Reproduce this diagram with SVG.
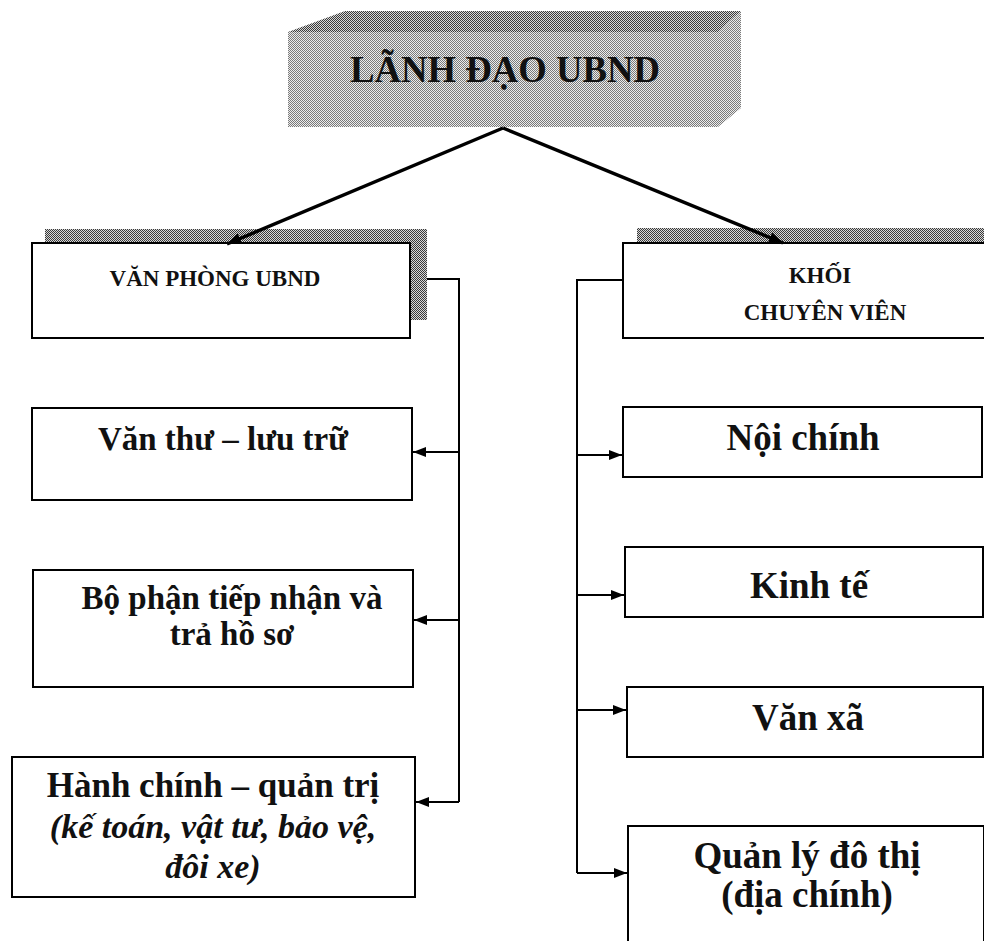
<svg xmlns="http://www.w3.org/2000/svg" width="984" height="941" viewBox="0 0 984 941">
  <defs>
    <!-- halftone-like fills -->
    <pattern id="dots" patternUnits="userSpaceOnUse" width="2" height="2">
      <rect width="2" height="2" fill="#ececec"/>
      <rect x="0" y="0" width="1" height="1" fill="#7a7a7a"/>
      <rect x="1" y="1" width="1" height="1" fill="#7a7a7a"/>
    </pattern>
    <pattern id="dotsDark" patternUnits="userSpaceOnUse" width="2" height="2">
      <rect width="2" height="2" fill="#d8d8d8"/>
      <rect x="0" y="0" width="1" height="1" fill="#3a3a3a"/>
      <rect x="1" y="1" width="1" height="1" fill="#3a3a3a"/>
    </pattern>
    <marker id="arrow" viewBox="0 0 13 10" refX="13" refY="5" markerWidth="13" markerHeight="10" markerUnits="userSpaceOnUse" orient="auto">
      <path d="M0,0 L13,5 L0,10 Z" fill="#000"/>
    </marker>
    <marker id="arrowBig" viewBox="0 0 14 11" refX="14" refY="5.5" markerWidth="14" markerHeight="11" markerUnits="userSpaceOnUse" orient="auto">
      <path d="M0,0 L14,5.5 L0,11 Z" fill="#000"/>
    </marker>
    <style>
      .box { fill: #fff; stroke: #000; stroke-width: 2; }
      .t { font-family: "Liberation Serif", "Times New Roman", serif; font-weight: bold; fill: #111; text-anchor: middle; }
      .ti { font-style: italic; }
      .link { fill: none; stroke: #000; stroke-width: 2; }
      .main { fill: none; stroke: #000; stroke-width: 3.5; }
    </style>
  </defs>

  <!-- top block drawn as a 3D slab -->
  <g id="lanh-dao">
    <polygon points="288,32 345,11 741,11 718,32" fill="url(#dotsDark)"/>
    <polygon points="718,32 741,11 741,108 718,127" fill="url(#dots)"/>
    <rect x="288" y="32" width="430" height="95" fill="url(#dots)"/>
    <text class="t" x="505" y="82" font-size="37" textLength="310" lengthAdjust="spacingAndGlyphs">LÃNH ĐẠO UBND</text>
  </g>

  <!-- left column header -->
  <g id="van-phong">
    <rect x="45" y="229" width="382" height="91" fill="url(#dotsDark)"/>
    <rect class="box" x="32" y="243" width="378" height="95"/>
    <text class="t" x="215" y="286" font-size="23">VĂN PHÒNG UBND</text>
  </g>

  <!-- right column header -->
  <g id="khoi-chuyen-vien">
    <rect x="637" y="228" width="360" height="91" fill="url(#dotsDark)"/>
    <rect class="box" x="623" y="243" width="380" height="95"/>
    <text class="t" x="820" y="283" font-size="23">KHỐI</text>
    <text class="t" x="825" y="320" font-size="23">CHUYÊN VIÊN</text>
  </g>

  <g id="van-thu">
    <rect class="box" x="32" y="408" width="380" height="92"/>
    <text class="t" x="223" y="450" font-size="33">Văn thư – lưu trữ</text>
  </g>

  <g id="bo-phan">
    <rect class="box" x="33" y="570" width="380" height="117"/>
    <text class="t" x="232" y="609" font-size="33">Bộ phận tiếp nhận và</text>
    <text class="t" x="232" y="645" font-size="33">trả hồ sơ</text>
  </g>

  <g id="hanh-chinh">
    <rect class="box" x="12" y="757" width="403" height="140"/>
    <text class="t" x="213" y="797" font-size="35">Hành chính – quản trị</text>
    <text class="t ti" x="213" y="838" font-size="34">(kế toán, vật tư, bảo vệ,</text>
    <text class="t ti" x="213" y="878" font-size="34">đôi xe)</text>
  </g>

  <g id="noi-chinh">
    <rect class="box" x="623" y="407" width="359" height="70"/>
    <text class="t" x="803" y="450" font-size="37">Nội chính</text>
  </g>

  <g id="kinh-te">
    <rect class="box" x="625" y="547" width="358" height="70"/>
    <text class="t" x="809" y="598" font-size="37">Kinh tế</text>
  </g>

  <g id="van-xa">
    <rect class="box" x="627" y="687" width="356" height="70"/>
    <text class="t" x="808" y="730" font-size="37">Văn xã</text>
  </g>

  <g id="quan-ly-do-thi">
    <rect class="box" x="628" y="826" width="356" height="130"/>
    <text class="t" x="807" y="868" font-size="37">Quản lý đô thị</text>
    <text class="t" x="807" y="907" font-size="37">(địa chính)</text>
  </g>

  <!-- connectors -->
  <g id="connectors">
    <line class="main" x1="503" y1="128" x2="227" y2="244" marker-end="url(#arrowBig)"/>
    <line class="main" x1="503" y1="128" x2="783" y2="243" marker-end="url(#arrowBig)"/>

    <polyline class="link" points="427,279 459,279 459,802"/>
    <line class="link" x1="459" y1="452" x2="413" y2="452" marker-end="url(#arrow)"/>
    <line class="link" x1="459" y1="620" x2="414" y2="620" marker-end="url(#arrow)"/>
    <line class="link" x1="459" y1="802" x2="416" y2="802" marker-end="url(#arrow)"/>

    <polyline class="link" points="623,280 577,280 577,873"/>
    <line class="link" x1="577" y1="455" x2="622" y2="455" marker-end="url(#arrow)"/>
    <line class="link" x1="577" y1="595" x2="624" y2="595" marker-end="url(#arrow)"/>
    <line class="link" x1="577" y1="710" x2="626" y2="710" marker-end="url(#arrow)"/>
    <line class="link" x1="577" y1="873" x2="627" y2="873" marker-end="url(#arrow)"/>
  </g>
</svg>
